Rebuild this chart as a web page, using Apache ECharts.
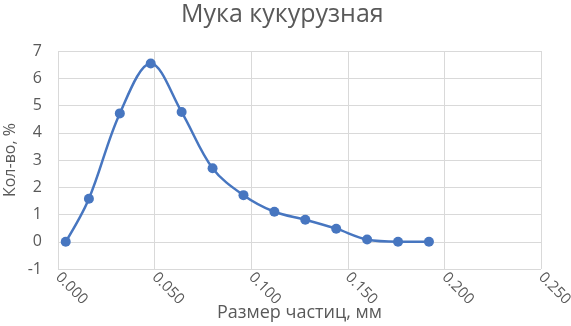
<!DOCTYPE html>
<html><head><meta charset="utf-8">
<script src="https://cdn.jsdelivr.net/npm/echarts@6/dist/echarts.min.js"></script>
<style>html,body{margin:0;padding:0;background:#fff}#c{width:571px;height:326px}</style>
</head><body><div id="c"></div>
<script>
const titleText = 'Мука кукурузная';
const xName = 'Размер частиц, мм';
const yName = 'Кол-во, %';
const sizes = [0.004, 0.016, 0.032, 0.048, 0.064, 0.080, 0.096, 0.112, 0.128, 0.144, 0.160, 0.176, 0.192];
const amounts = [0, 1.58, 4.71, 6.54, 4.76, 2.70, 1.71, 1.10, 0.81, 0.48, 0.08, 0, 0];
const font = '"Open Sans", sans-serif';
const txt = '#595959';
const chart = echarts.init(document.getElementById('c'), null, {renderer:'canvas'});
chart.setOption({
  animation:false,
  title:{text:titleText,left:176,top:-3,textStyle:{fontFamily:font,fontSize:25,fontWeight:'normal',color:txt}},
  grid:{left:58,right:30,top:51,bottom:57,containLabel:false,outerBoundsMode:'none'},
  xAxis:{type:'value',min:0,max:0.25,interval:0.05,
    name:xName,nameLocation:'middle',nameGap:35,nameMoveOverlap:false,
    nameTextStyle:{fontFamily:font,fontSize:18,color:txt},
    axisLine:{show:false},axisTick:{show:false},
    axisLabel:{rotate:-45,margin:6,fontFamily:font,fontSize:15,color:txt,formatter:v=>v.toFixed(3)},
    splitLine:{show:true,lineStyle:{color:'#d9d9d9',width:1}}},
  yAxis:{type:'value',min:-1,max:7,interval:1,
    name:yName,nameLocation:'middle',nameGap:40,nameMoveOverlap:false,
    nameTextStyle:{fontFamily:font,fontSize:16,color:txt},
    axisLine:{show:false},axisTick:{show:false},
    axisLabel:{margin:16,fontFamily:font,fontSize:16,color:txt},
    splitLine:{show:true,lineStyle:{color:'#d9d9d9',width:1}}},
  series:[{type:'line',data:sizes.map((x,i)=>[x,amounts[i]]),smooth:0.35,
    symbol:'circle',symbolSize:10,
    lineStyle:{color:'#4776c0',width:2.5},
    itemStyle:{color:'#4776c0'}}]
});
</script></body></html>
